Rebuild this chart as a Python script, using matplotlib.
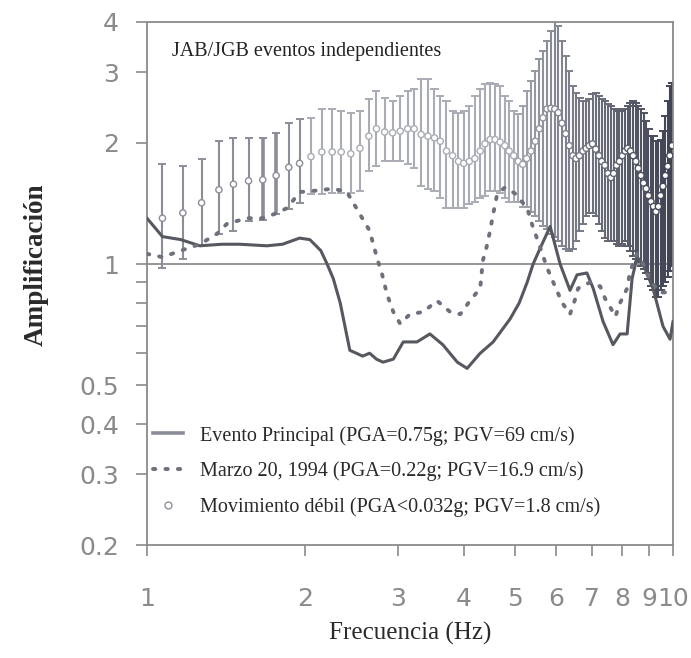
import numpy as np
import matplotlib.pyplot as plt
from matplotlib.colors import to_rgb
from matplotlib.lines import Line2D
from matplotlib.ticker import FixedLocator, FixedFormatter, NullFormatter, NullLocator

# Main shock (solid line)
main_f = [1.00, 1.07, 1.16, 1.26, 1.39, 1.50, 1.69, 1.81, 1.95, 2.04,
          2.14, 2.20, 2.26, 2.33, 2.43, 2.50, 2.57, 2.65, 2.73, 2.81,
          2.94, 3.07, 3.16, 3.26, 3.45, 3.65, 3.89, 4.06, 4.30, 4.55,
          4.90, 5.10, 5.28, 5.42, 5.60, 5.84, 6.10, 6.37, 6.57, 6.86,
          7.05, 7.36, 7.69, 7.93, 8.18, 8.36, 8.54, 8.77, 9.16, 9.57,
          9.87, 10.0]
main_amp = [1.30, 1.17, 1.15, 1.11, 1.12, 1.12, 1.11, 1.12, 1.16, 1.15,
            1.08, 1.00, 0.92, 0.80, 0.61, 0.60, 0.59, 0.60, 0.58, 0.57,
            0.58, 0.64, 0.64, 0.64, 0.67, 0.63, 0.57, 0.55, 0.60, 0.64,
            0.73, 0.80, 0.90, 1.00, 1.10, 1.24, 1.00, 0.86, 0.94, 0.95,
            0.87, 0.72, 0.63, 0.67, 0.67, 0.92, 1.04, 1.00, 0.87, 0.70,
            0.65, 0.72]

# March 20, 1994 event (dotted line)
march_f = [1.00, 1.07, 1.16, 1.26, 1.36, 1.42, 1.55, 1.66, 1.77, 1.85,
           1.95, 2.07, 2.26, 2.40, 2.54, 2.65, 2.74, 2.80, 2.86, 2.94,
           3.03, 3.16, 3.35, 3.56, 3.77, 3.94, 4.11, 4.30, 4.35, 4.42,
           4.49, 4.55, 4.63, 4.79, 5.00, 5.28, 5.40, 5.59, 5.76, 5.90,
           6.01, 6.16, 6.37, 6.52, 6.60, 6.95, 7.27, 7.43, 7.60, 7.77,
           7.93, 8.18, 8.29, 8.54, 8.77, 9.04, 9.45, 10.0]
march_amp = [1.06, 1.04, 1.08, 1.12, 1.19, 1.26, 1.30, 1.30, 1.34, 1.38,
             1.51, 1.52, 1.54, 1.51, 1.33, 1.21, 1.03, 0.94, 0.84, 0.76,
             0.71, 0.75, 0.76, 0.81, 0.76, 0.75, 0.81, 0.87, 1.02, 1.10,
             1.21, 1.33, 1.49, 1.55, 1.50, 1.38, 1.25, 1.10, 0.98, 0.91,
             0.86, 0.80, 0.75, 0.82, 0.87, 0.90, 0.88, 0.82, 0.78, 0.74,
             0.80, 0.87, 0.96, 1.06, 1.00, 0.91, 0.85, 0.85]

# Weak motion: mean ratio and +/- one standard deviation
weak_f = [1.07, 1.17, 1.27, 1.37, 1.46, 1.56, 1.66, 1.76, 1.86, 1.95,
          2.05, 2.15, 2.25, 2.34, 2.44, 2.54, 2.64, 2.73, 2.83, 2.93,
          3.03, 3.13, 3.22, 3.32, 3.42, 3.52, 3.61, 3.71, 3.81, 3.91,
          4.00, 4.10, 4.20, 4.30, 4.39, 4.49, 4.59, 4.69, 4.79, 4.88,
          4.98, 5.08, 5.18, 5.27, 5.37, 5.47, 5.57, 5.66, 5.76, 5.86,
          5.96, 6.05, 6.15, 6.25, 6.35, 6.45, 6.54, 6.64, 6.74, 6.84,
          6.93, 7.03, 7.13, 7.23, 7.32, 7.42, 7.52, 7.62, 7.71, 7.81,
          7.91, 8.01, 8.11, 8.20, 8.30, 8.40, 8.50, 8.59, 8.69, 8.79,
          8.89, 8.98, 9.08, 9.18, 9.28, 9.38, 9.47, 9.57, 9.67, 9.77,
          9.86, 9.96]
weak_amp = [1.30, 1.34, 1.42, 1.53, 1.58, 1.61, 1.62, 1.66, 1.74, 1.78,
            1.85, 1.90, 1.90, 1.90, 1.88, 1.94, 2.08, 2.17, 2.13, 2.12,
            2.14, 2.17, 2.17, 2.10, 2.08, 2.06, 2.02, 1.91, 1.86, 1.80,
            1.78, 1.80, 1.83, 1.91, 1.99, 2.04, 2.04, 2.01, 1.97, 1.91,
            1.86, 1.80, 1.77, 1.83, 1.91, 2.02, 2.17, 2.31, 2.43, 2.44,
            2.43, 2.38, 2.24, 2.11, 1.97, 1.86, 1.83, 1.86, 1.91, 1.94,
            1.97, 1.99, 1.93, 1.86, 1.80, 1.76, 1.68, 1.64, 1.68, 1.76,
            1.80, 1.86, 1.91, 1.94, 1.91, 1.86, 1.80, 1.73, 1.66, 1.59,
            1.54, 1.48, 1.43, 1.39, 1.35, 1.39, 1.48, 1.56, 1.66, 1.75,
            1.86, 1.97]
weak_hi = [1.77, 1.75, 1.83, 2.02, 2.06, 2.06, 2.06, 2.12, 2.24, 2.29,
           2.31, 2.43, 2.43, 2.40, 2.38, 2.40, 2.57, 2.70, 2.59, 2.54,
           2.62, 2.70, 2.73, 2.88, 2.88, 2.73, 2.62, 2.54, 2.40, 2.38,
           2.40, 2.47, 2.62, 2.73, 2.80, 2.82, 2.80, 2.77, 2.62, 2.54,
           2.40, 2.36, 2.47, 2.70, 2.85, 3.02, 3.23, 3.39, 3.59, 3.80,
           4.02, 3.91, 3.59, 3.29, 3.02, 2.77, 2.67, 2.59, 2.54, 2.54,
           2.57, 2.65, 2.67, 2.62, 2.57, 2.54, 2.50, 2.47, 2.43, 2.43,
           2.40, 2.40, 2.43, 2.47, 2.52, 2.54, 2.52, 2.47, 2.43, 2.38,
           2.27, 2.17, 2.08, 2.08, 2.02, 2.02, 2.04, 2.14, 2.33, 2.54,
           2.77, 2.82]
weak_lo = [0.98, 1.03, 1.11, 1.19, 1.21, 1.28, 1.29, 1.33, 1.37, 1.42,
           1.49, 1.49, 1.50, 1.50, 1.50, 1.52, 1.70, 1.75, 1.80, 1.80,
           1.80, 1.77, 1.73, 1.56, 1.54, 1.52, 1.46, 1.38, 1.38, 1.38,
           1.38, 1.41, 1.43, 1.46, 1.48, 1.52, 1.52, 1.50, 1.46, 1.43,
           1.43, 1.43, 1.39, 1.39, 1.35, 1.32, 1.28, 1.24, 1.22, 1.19,
           1.17, 1.14, 1.11, 1.09, 1.08, 1.09, 1.14, 1.21, 1.26, 1.32,
           1.34, 1.34, 1.32, 1.26, 1.21, 1.16, 1.14, 1.14, 1.14, 1.12,
           1.11, 1.12, 1.14, 1.11, 1.08, 1.05, 1.03, 1.01, 0.99, 0.97,
           0.95, 0.92, 0.88, 0.86, 0.83, 0.83, 0.86, 0.88, 0.90, 0.93,
           0.96, 0.99]

x_ticks = [1, 2, 3, 4, 5, 6, 7, 8, 9, 10]
y_ticks = [0.2, 0.3, 0.4, 0.5, 1, 2, 3, 4]
y_minor = [0.6, 0.7, 0.8, 0.9]

serif = 'Liberation Serif'
gray_txt = '#8a8a8a'
axis_gray = '#8a8a8a'

# bar shade: medium gray at low f, light in the middle, darkening above 5 Hz
light, dark = np.array(to_rgb('#a9acb4')), np.array(to_rgb('#3f4352'))
bar_cols = []
for f in weak_f:
    if f < 2.0:
        bar_cols.append(to_rgb('#8b8e97'))
    else:
        t = np.clip(np.log10(f / 5.0) / np.log10(2.0), 0, 1) ** 0.8
        bar_cols.append(tuple(light + (dark - light) * t))
bar_lw = [2.6 if f in (1.66, 1.76) else 1.5 for f in weak_f]

fig = plt.figure(figsize=(6.91, 6.58), dpi=100)
ax = fig.add_axes([0.2127, 0.1717, 0.7613, 0.7949])
ax.set_xscale('log')
ax.set_yscale('log')

ax.axhline(1, color='#8c8c8c', lw=1.3, zorder=1)

ax.vlines(weak_f, weak_lo, weak_hi, colors=bar_cols, linewidths=bar_lw,
          zorder=2)
for ends in (weak_hi, weak_lo):
    ax.scatter(weak_f, ends, marker='_', s=34, c=bar_cols, linewidths=1.4,
               zorder=2)

ax.plot(main_f, main_amp, color='#55585f', lw=2.2, zorder=3,
        solid_joinstyle='round')
ax.plot(march_f, march_amp, color='#6e717c', lw=2.8,
        dashes=(0.6, 2.6), dash_capstyle='round', zorder=3)
ax.scatter(weak_f, weak_amp, s=20, facecolors='white',
           edgecolors=bar_cols, linewidths=1.0, zorder=4)

ax.set_xlim(1, 10)
ax.set_ylim(0.2, 4)

ax.xaxis.set_major_locator(FixedLocator(x_ticks))
ax.xaxis.set_major_formatter(FixedFormatter([str(t) for t in x_ticks]))
ax.xaxis.set_minor_locator(NullLocator())
ax.yaxis.set_major_locator(FixedLocator(y_ticks))
ax.yaxis.set_major_formatter(FixedFormatter([f'{t:g}' for t in y_ticks]))
ax.yaxis.set_minor_locator(FixedLocator(y_minor))
ax.yaxis.set_minor_formatter(NullFormatter())

ax.tick_params(which='both', direction='out', length=8, width=1.2,
               color=axis_gray, labelcolor=gray_txt, labelsize=18)
ax.tick_params(axis='x', pad=22)
ax.tick_params(axis='y', pad=12)
for s in ax.spines.values():
    s.set_color(axis_gray)
    s.set_linewidth(1.3)

ax.set_xlabel('Frecuencia (Hz)', family=serif, fontsize=18,
              color='#2a2a2a', labelpad=8)
ax.set_ylabel('Amplificación', family=serif, fontsize=19.5,
              color='#2a2a2a', fontweight='bold')
ax.yaxis.set_label_coords(-0.187, 0.535)

ax.text(0.048, 0.944, 'JAB/JGB eventos independientes', transform=ax.transAxes,
        family=serif, fontsize=14.5, color='#222222', va='center')

handles = [
    Line2D([], [], color='#8a8d96', lw=2.6),
    Line2D([], [], color='#6e717c', lw=2.8, dashes=(0.6, 2.6),
           dash_capstyle='round'),
    Line2D([], [], ls='none', marker='o', ms=5, mfc='white',
           mec='#8e919a', mew=1.0),
]
labels = ['Evento Principal (PGA=0.75g; PGV=69 cm/s)',
          'Marzo 20, 1994 (PGA=0.22g; PGV=16.9 cm/s)',
          'Movimiento débil (PGA<0.032g; PGV=1.8 cm/s)']
ax.legend(handles, labels, loc='upper left', bbox_to_anchor=(0.012, 0.228),
          frameon=False, borderpad=0, borderaxespad=0, handlelength=1.5,
          handletextpad=0.8, labelspacing=0.8,
          prop={'family': serif, 'size': 14.5}, labelcolor='#2a2a2a')

fig.savefig('out.png', dpi=100)
